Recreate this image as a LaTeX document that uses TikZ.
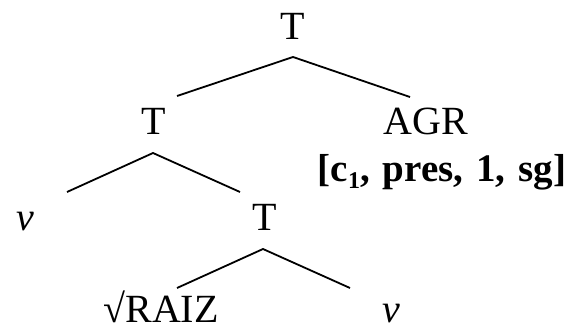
\documentclass[tikz,border=0pt]{standalone}
\usepackage{fontspec}
\setmainfont{Liberation Serif}
\usetikzlibrary{calc}
\begin{document}
\begin{tikzpicture}[x=1pt,y=-1pt,
  lbl/.style={anchor=base,inner sep=0pt,font=\fontsize{40}{48}\selectfont},
  feat/.style={anchor=base,inner sep=0pt,font=\fontsize{39}{48}\selectfont\bfseries},
  branch/.style={line width=1.8pt}]
\useasboundingbox (0,0) rectangle (572,331);
\node[lbl] (t1) at (293,40) {T};
\node[lbl] (t2) at (154,135) {T};
\node[lbl] (agr) at (426,135) {AGR};
\node[feat] (feat) at (442,182) {\spaceskip=13pt\relax [c\raisebox{-6pt}{\fontsize{24}{24}\selectfont 1}, pres, 1, sg]};
\node[lbl] (v1) at (25,230) {\textit{v}};
\node[lbl] (t3) at (265,230) {T};
\node[lbl] (raiz) at (161,322) {√RAIZ};
\node[lbl] (v2) at (391,322) {\textit{v}};
\draw[branch] ($(t2.base)+(23,-39)$) -- ($(t1.base)+(0,17)$) -- ($(agr.base)+(-16,-38)$);
\draw[branch] ($(v1.base)+(42,-38)$) -- ($(t2.base)+(-1,18)$) -- ($(t3.base)+(-25,-38)$);
\draw[branch] ($(raiz.base)+(16,-34)$) -- ($(t3.base)+(-2,19)$) -- ($(v2.base)+(-41,-34)$);
\end{tikzpicture}
\end{document}
